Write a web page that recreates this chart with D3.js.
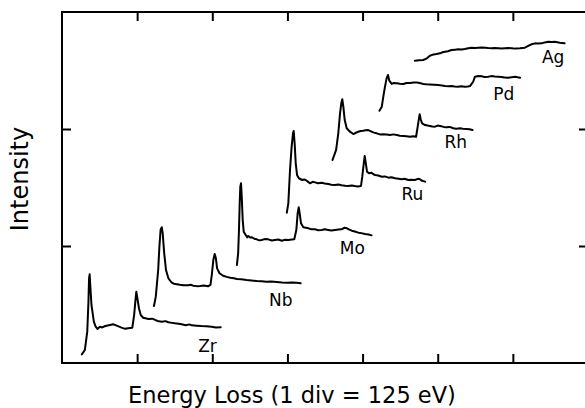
<!DOCTYPE html>
<html>
<head>
<meta charset="utf-8">
<script src="https://cdn.jsdelivr.net/npm/d3@7"></script>
<style>
  html, body { margin: 0; padding: 0; background: #fff; }
  svg { display: block; }
  text { font-family: "DejaVu Sans", sans-serif; fill: #000; }
</style>
</head>
<body>
<svg id="chart" width="585" height="408"></svg>
<script>
// L2,3 edge spectra, offset horizontally and vertically; x in eV, y in arbitrary units (100 per div)
const zr = [[33,7.4],[38,11.1],[42,26.8],[44,52.4],[45,72.4],[46,75.8],[47,66.7],[49,49.6],[53,35.3],[56,31],[59,29.1],[63,31],[67,30.4],[72,31.6],[80,32.5],[85,33.1],[91,31.9],[99,30.2],[105,29.2],[110,29.7],[117,30.2],[120,41],[122.5,55.3],[123.6,60.9],[125,56.7],[128,46.8],[131,41],[135,38.7],[144,37.6],[150,37.9],[155,36.8],[161,35.6],[166,35.3],[172,35.8],[177,34.8],[183,34.3],[188,33.9],[194,33.5],[199,33.1],[206,32.3],[212,33],[216,32.2],[224,31.9],[232,31.6],[240,31.4],[249,31],[256,30.3],[264,30.5]];
const nb = [[153,48.7],[156,56.7],[160,79.5],[162,99.4],[164,113.7],[166,116],[167.5,110.9],[170,93.8],[173,79.5],[177,72.4],[182,69],[186,67.8],[191,67.3],[196,66.8],[202,66.4],[210,66.4],[214,66.9],[218,66.1],[224,65.7],[230,65.8],[236,66.3],[243,65.6],[247,66.7],[249.5,76.7],[251.7,88],[254,93.2],[256,89.5],[258,80.9],[262,76.7],[268,74.6],[274,73.6],[280,72.9],[286,72.4],[291,71.8],[298,71.5],[307,70.9],[315,70.6],[324,70.1],[332,69.9],[340,69.5],[348,69.7],[357,69.2],[366,68.8],[374,68.6],[382,68.9],[390,68.6],[397,68.1]];
const mo = [[291,83.8],[293,93.8],[294.4,113.7],[295.6,136.5],[296.6,150.7],[297.8,153.6],[299,142.1],[300.6,122.2],[302.3,112.2],[305.6,109.4],[308,107.4],[310,108.5],[313,107.2],[316,107.4],[320,106.2],[324,105.7],[328,104.8],[332,105.1],[337,105.9],[343,105.7],[349,104.7],[354,105.1],[360,105.5],[365.5,104.5],[371,105.3],[376.5,105.1],[382,105.6],[386.4,105.7],[389.8,113.7],[392,127.9],[393.8,133.1],[395.4,127.9],[397.6,119.4],[401.4,116],[406,115.6],[410,115.1],[415,114.3],[421,114.3],[426,113.5],[432,113.7],[437,114.3],[443,113.7],[448,113.2],[454,113.7],[460,114.1],[465,114.3],[470,115.6],[474,115.1],[478,114],[482,113.1],[487,112.4],[493,111.4],[498,111],[504,110.3],[510,109.8],[515,109.1]];
const ru = [[374,128.5],[376.5,136.5],[379.3,165],[382,184.9],[384.3,196.3],[385.4,198.3],[387,187.8],[388.8,170.7],[391,160.7],[394,157.9],[399.7,156.4],[403,156.9],[407,155.8],[410,154.6],[412.5,153.6],[417,154.9],[421,154.4],[426,153.6],[432,154.1],[437,153.5],[443,153],[448,152.4],[454,152.1],[460,152.6],[465,151.9],[471,151.5],[476,151.3],[482,151.8],[487,151.3],[492,150.9],[497.4,151.3],[499.5,159.2],[502,170.7],[503.5,176.9],[505,172.1],[507.4,163.5],[510.7,162.1],[515,162.6],[518,161.3],[521,160.7],[526,160.2],[532,159.2],[537,159.5],[543,158.4],[548,158.7],[554,157.9],[560,157.4],[565,157],[570,157.5],[576,156.4],[581,156.7],[587,156.4],[592,157.4],[595.5,157],[599,155.7],[604,155]];
const rh = [[450,173.5],[456,182.1],[459.6,196.3],[462.5,213.4],[464.6,222],[466.3,225.4],[468,219.1],[470.3,207.7],[473.6,200.6],[479,197.7],[484.6,195.7],[489,196.8],[493,197.7],[497,198.3],[501,198.5],[505,198.9],[509.5,199.1],[515,197.7],[519,196.9],[523.5,196.3],[529,195.4],[534.5,195.5],[540,195.2],[545.6,194.9],[551,195.4],[557,194.9],[562,194.3],[568,194],[573,193.8],[579,193.4],[584,193.8],[589,193.4],[591.7,202],[593.4,207.7],[595,212.6],[596.7,208.3],[599,204.9],[604,203.4],[608,203],[612,202.6],[616,202.1],[620.5,202],[625,202.9],[629,202.6],[635,201.8],[640,201.5],[645,201.8],[651,200.6],[656,200.3],[662,200.6],[667,200.2],[673,200],[678,199.8],[683,199.1]];
const pd = [[528,215.6],[532,219.1],[534.5,227.6],[537.3,236.2],[540,243.3],[542.3,246.2],[544.5,241.3],[548.5,238.5],[552,239.4],[557,239.1],[562,238.7],[568,238.5],[573,239.3],[579,239.3],[585,239.8],[590,239.7],[595,239.3],[601,238.5],[606,238.2],[612,238],[619,237.8],[626,237.6],[632,237.2],[637,236.8],[643,236.5],[648,236.8],[653,236.3],[659,236.2],[664,236.5],[670,236.2],[675,236.4],[679,236.8],[684,240.4],[687,244.7],[692.5,245.3],[698,245],[703,244.5],[709,244.7],[714,245.2],[720,244.9],[726,244.7],[731,244.4],[736,244.1],[742,243.8],[748,244.3],[754,244.7],[758,244.2],[762,243.8]];
const ag = [[587,258.4],[594,258.8],[601,259],[607,260.4],[612,262.6],[616,263.4],[620.5,263.8],[625,264.3],[629,264.7],[633,265.6],[637,266.1],[642,266.4],[648,267.5],[654,267.8],[659,268.1],[665,268],[670,268.4],[676,269],[681.5,269.5],[687,269.3],[692.5,269.5],[698,269.7],[704,269.5],[709,269.2],[715,269],[720,269.3],[726,269],[731,268.8],[737,269],[742,269.2],[748,269],[754,268.7],[762,269],[766,269.3],[770,269.5],[774,270.6],[778.5,271.8],[783,272.7],[787,273.2],[792,273],[798,273.2],[803,274],[809,274.6],[815,274.4],[820,274.6],[824,274.2],[828,273.8],[836,273.2]];

const series = [zr, nb, mo, ru, rh, pd, ag];
const elements = ["Zr", "Nb", "Mo", "Ru", "Rh", "Pd", "Ag"];
// label anchor for each element (centre x in eV, baseline in intensity units)
const labelX = [242, 364, 483, 583, 655, 735, 817];
const labelY = [9.4, 48.7, 93.2, 139.3, 183.8, 224.8, 256.4];

const xTicks = [125, 250, 375, 500, 625, 750];
const yTicks = [100, 200];
const xTitle = "Energy Loss (1 div = 125 eV)";
const yTitle = "Intensity";

const svg = d3.select("#chart");
const frame = { left: 62, right: 588, top: 12, bottom: 363 };

const x = d3.scaleLinear().domain([0, 875]).range([frame.left, frame.right]);
const y = d3.scaleLinear().domain([0, 300]).range([frame.bottom, frame.top]);

const tick = 9;
const axes = svg.append("g").attr("class", "axes");

// ticks on all four sides, pointing inward
axes.append("g").attr("transform", `translate(0,${frame.bottom})`)
  .call(d3.axisBottom(x).tickValues(xTicks).tickSizeInner(-tick).tickSizeOuter(0).tickFormat(""));
axes.append("g").attr("transform", `translate(0,${frame.top})`)
  .call(d3.axisTop(x).tickValues(xTicks).tickSizeInner(-tick).tickSizeOuter(0).tickFormat(""));
axes.append("g").attr("transform", `translate(${frame.left},0)`)
  .call(d3.axisLeft(y).tickValues(yTicks).tickSizeInner(-tick).tickSizeOuter(0).tickFormat(""));
axes.append("g").attr("transform", `translate(${frame.right},0)`)
  .call(d3.axisRight(y).tickValues(yTicks).tickSizeInner(-tick).tickSizeOuter(0).tickFormat(""));
axes.selectAll(".domain").remove();
axes.selectAll(".tick line").attr("stroke", "#000").attr("stroke-width", 2);

// plot frame
svg.append("rect")
  .attr("x", frame.left).attr("y", frame.top)
  .attr("width", frame.right - frame.left).attr("height", frame.bottom - frame.top)
  .attr("fill", "none").attr("stroke", "#000").attr("stroke-width", 2);

const line = d3.line().x(d => x(d[0])).y(d => y(d[1]));

svg.append("g").selectAll("path")
  .data(series)
  .join("path")
  .attr("d", line)
  .attr("fill", "none")
  .attr("stroke", "#000")
  .attr("stroke-width", 2)
  .attr("stroke-linejoin", "round")
  .attr("stroke-linecap", "round");

svg.append("g").selectAll("text")
  .data(elements)
  .join("text")
  .attr("x", (d, i) => x(labelX[i]))
  .attr("y", (d, i) => y(labelY[i]))
  .attr("text-anchor", "middle")
  .attr("font-size", 17)
  .text(d => d);

svg.append("text")
  .attr("x", 292).attr("y", 403)
  .attr("text-anchor", "middle")
  .attr("font-size", 22.5)
  .text(xTitle);

svg.append("text")
  .attr("transform", "translate(28,179) rotate(-90)")
  .attr("text-anchor", "middle")
  .attr("font-size", 24)
  .text(yTitle);
</script>
</body>
</html>
